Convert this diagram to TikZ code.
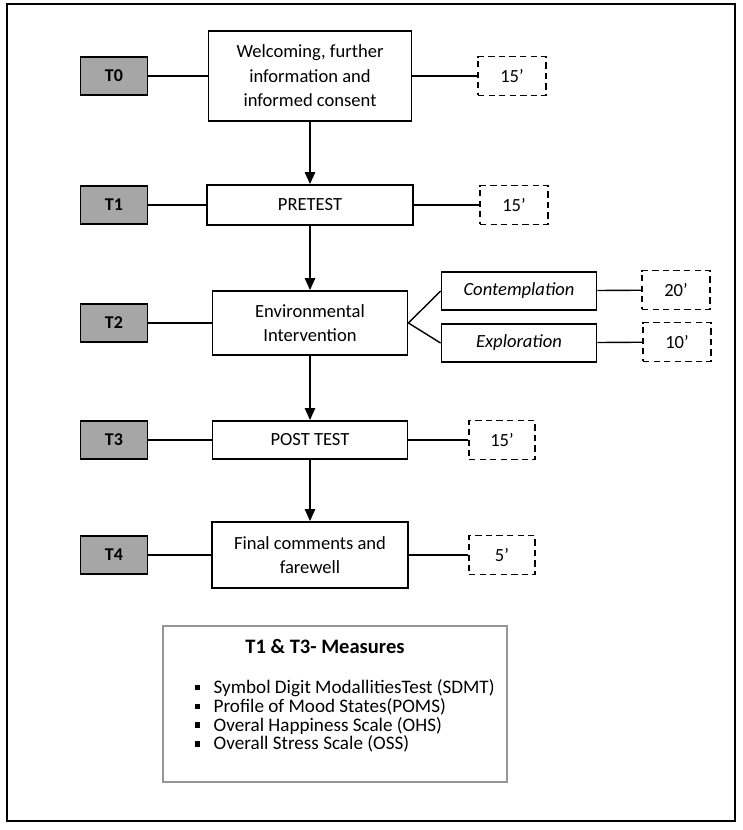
\documentclass[tikz,border=0pt]{standalone}
\usepackage{fontspec}
\setmainfont{Carlito}
\usepackage{tikz}
\usetikzlibrary{arrows.meta}
\definecolor{stepgrey}{RGB}{166,166,166}
\definecolor{framegrey}{RGB}{150,150,150}
\newcommand{\msq}{\rule[0.18em]{0.13cm}{0.13cm}\hspace{0.33cm}}

\begin{document}
\begin{tikzpicture}[x=0.025cm,y=-0.025cm,
    font=\fontsize{13.2}{17.5}\selectfont,
    tbox/.style={draw,line width=1.3pt,fill=stepgrey,minimum width=1.675cm,minimum height=0.95cm,font=\fontsize{12.8}{17}\selectfont\bfseries},
    mainbox/.style={draw,line width=1.3pt,align=center,minimum width=4.9cm},
    subbox/.style={draw,line width=1.3pt,minimum width=3.875cm,minimum height=0.95cm,font=\fontsize{13.2}{17.5}\selectfont\itshape},
    timebox/.style={draw,dashed,line width=0.9pt,dash pattern=on 4.5pt off 3pt,minimum width=1.7cm,minimum height=0.97cm},
    link/.style={line width=1pt},
    flow/.style={line width=1pt,-{Triangle[length=0.3cm,width=0.26cm]}}]
    \useasboundingbox (0,0) rectangle (743,830);

    % Outer frame
    \draw[line width=1.4pt] (7,4) rectangle (735,821);

    % Timepoints
    \node[tbox] (t0) at (114,76) {T0};
    \node[tbox] (t1) at (114,205) {T1};
    \node[tbox] (t2) at (114,323) {T2};
    \node[tbox] (t3) at (114,440) {T3};
    \node[tbox] (t4) at (114,555) {T4};

    % Steps
    \node[mainbox,minimum width=5.075cm,minimum height=2.25cm] (welcome) at (310,76) {Welcoming, further\\information and\\informed consent};
    \node[mainbox,minimum width=5.15cm,minimum height=1.0cm] (pretest) at (310,205) {PRETEST};
    \node[mainbox,minimum width=4.875cm,minimum height=1.6cm] (env) at (310,323) {Environmental\\Intervention};
    \node[mainbox,minimum width=4.875cm,minimum height=0.95cm] (posttest) at (310,440) {POST TEST};
    \node[mainbox,minimum width=4.9cm,minimum height=1.65cm] (final) at (310,555) {Final comments and\\farewell};

    % Intervention parts
    \node[subbox] (contemp) at (519,291) {Contemplation};
    \node[subbox] (explor) at (519,343) {Exploration};

    % Durations
    \node[timebox] (d0) at (512,76) {15’};
    \node[timebox] (d1) at (514,205) {15’};
    \node[timebox] (d2a) at (676,290) {20’};
    \node[timebox] (d2b) at (677,342) {10’};
    \node[timebox,minimum width=1.65cm] (d3) at (502,440) {15’};
    \node[timebox,minimum width=1.65cm] (d4) at (502,555) {5’};

    % Connections
    \draw[link] (t0) -- (welcome);
    \draw[link] (t1) -- (pretest);
    \draw[link] (t2) -- (env);
    \draw[link] (t3) -- (posttest);
    \draw[link] (t4) -- (final);
    \draw[link] (welcome) -- (d0);
    \draw[link] (pretest) -- (d1);
    \draw[link] (posttest) -- (d3);
    \draw[link] (final) -- (d4);
    \draw[link] (env.east) -- (contemp.west);
    \draw[link] (env.east) -- (explor.west);
    \draw[link] (contemp) -- (d2a);
    \draw[link] (explor) -- (d2b);

    \draw[flow] (welcome) -- (pretest);
    \draw[flow] (pretest) -- (env);
    \draw[flow] (env) -- (posttest);
    \draw[flow] (posttest) -- (final);

    % Measures
    \node[draw=framegrey,line width=1pt,minimum width=8.6cm,minimum height=3.9cm] (measures) at (335,704) {};
    \node[font=\fontsize{14.6}{17.5}\selectfont\bfseries] (meastitle) at (325,646) {T1 \& T3- Measures};
    \node[anchor=west,align=left,inner sep=0pt,font=\fontsize{13.6}{13.4}\selectfont] (measlist) at (195,716)
        {\msq Symbol Digit ModallitiesTest (SDMT)\\
         \msq Profile of Mood States(POMS)\\
         \msq Overal Happiness Scale (OHS)\\
         \msq Overall Stress Scale (OSS)};
\end{tikzpicture}
\end{document}
